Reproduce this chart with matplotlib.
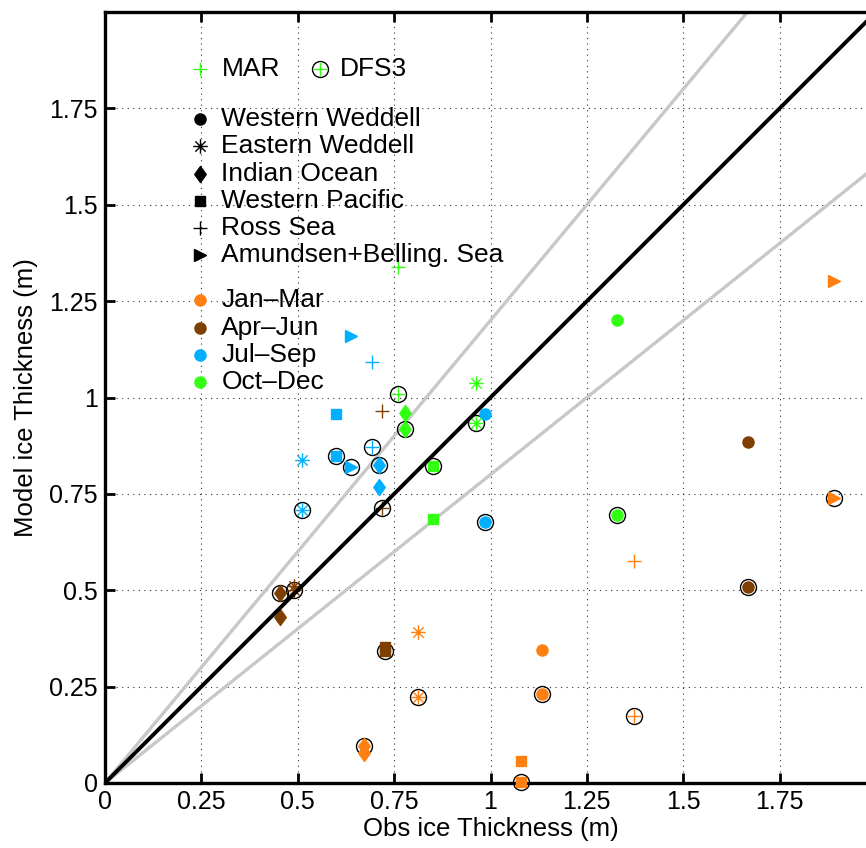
import matplotlib
matplotlib.use("Agg")
import matplotlib.pyplot as plt
import numpy as np
from matplotlib.path import Path

plt.rcParams["font.family"] = ["Liberation Sans", "DejaVu Sans"]

# MATLAB-like '*' (plus over cross) and 'd' (diamond) markers
_a = np.deg2rad(np.arange(0, 180, 45))
ASTERISK = Path(
    np.ravel(np.column_stack([np.cos(_a), np.sin(_a), -np.cos(_a), -np.sin(_a)])).reshape(-1, 2),
    [Path.MOVETO, Path.LINETO] * 4,
)
DIAMOND = Path([(0, 1), (0.72, 0), (0, -1), (-0.72, 0), (0, 1)],
               [Path.MOVETO] + [Path.LINETO] * 3 + [Path.CLOSEPOLY])

REGIONS = [
    "Western Weddell",
    "Eastern Weddell",
    "Indian Ocean",
    "Western Pacific",
    "Ross Sea",
    "Amundsen+Belling. Sea",
]
REGION_MARKERS = ["o", ASTERISK, DIAMOND, "s", "+", ">"]
REGION_SIZES = [8, 10.5, 11.5, 6.5, 9.5, 8]
OPEN_MARKERS = [False, True, False, False, True, False]

SEASONS = ["Jan\u2013Mar", "Apr\u2013Jun", "Jul\u2013Sep", "Oct\u2013Dec"]
SEASON_COLORS = ["#ff8010", "#7f3f00", "#00b0ff", "#33ff14"]

nan = np.nan
# rows: regions, columns: seasons
OBS_THICK = [
    [1.133, 1.668, 0.987, 1.328],
    [0.812, 0.490, 0.512, 0.963],
    [0.672, 0.455, 0.710, 0.778],
    [1.078, 0.727, 0.600, 0.852],
    [1.372, 0.719, 0.692, 0.759],
    [1.892, nan, 0.639, nan],
]
MAR_THICK = [
    [0.345, 0.884, 0.956, 1.200],
    [0.392, 0.510, 0.839, 1.038],
    [0.077, 0.430, 0.767, 0.960],
    [0.057, 0.352, 0.957, 0.684],
    [0.576, 0.965, 1.091, 1.339],
    [1.302, nan, 1.159, nan],
]
DFS3_THICK = [
    [0.232, 0.509, 0.677, 0.696],
    [0.222, 0.500, 0.708, 0.935],
    [0.097, 0.492, 0.824, 0.917],
    [0.003, 0.342, 0.848, 0.823],
    [0.174, 0.714, 0.872, 1.008],
    [0.740, nan, 0.820, nan],
]

REF_SLOPES = [1.2, 0.8]
TICKS = [0, 0.25, 0.5, 0.75, 1, 1.25, 1.5, 1.75]
TICK_LABELS = ["0", "0.25", "0.5", "0.75", "1", "1.25", "1.5", "1.75"]

RING_SIZE = 11.5

W, H = 866, 848
fig = plt.figure(figsize=(W / 100, H / 100), dpi=100)
# axes run to x=2 which falls just beyond the right edge of the image
ax = fig.add_axes([105 / W, (H - 783) / H, 771 / W, 771 / H])

line = np.array([0, 2.5])
for s in REF_SLOPES:
    ax.plot(line, s * line, color="#c8c8c8", lw=2.4, zorder=2, solid_capstyle="butt")

for r, (mk, ms, op) in enumerate(zip(REGION_MARKERS, REGION_SIZES, OPEN_MARKERS)):
    for s, col in enumerate(SEASON_COLORS):
        x = OBS_THICK[r][s]
        if np.isnan(x):
            continue
        kw = dict(ms=ms, mec=col, mfc="none" if op else col,
                  mew=1.0, ls="none", clip_on=False, zorder=4)
        ax.plot(x, MAR_THICK[r][s], marker=mk, **kw)
        ax.plot(x, DFS3_THICK[r][s], "o", ms=RING_SIZE, mfc="none", mec="black",
                mew=1.0, ls="none", clip_on=False, zorder=3)
        ax.plot(x, DFS3_THICK[r][s], marker=mk, **kw)

ax.plot(line, line, color="black", lw=2.8, zorder=5, solid_capstyle="butt")


# hand-made legend, as in the original figure
def leg_marker(xf, yf, mk, ms, color, opened=False, ring=False):
    if ring:
        ax.plot(xf, yf, "o", ms=RING_SIZE, mfc="none", mec="black", mew=1.0,
                transform=ax.transAxes, clip_on=False, zorder=6)
    ax.plot(xf, yf, marker=mk, ms=ms, mec=color,
            mfc="none" if opened else color, mew=1.0,
            transform=ax.transAxes, clip_on=False, zorder=7)


def leg_text(xf, yf, txt):
    ax.text(xf, yf, txt, transform=ax.transAxes, fontsize=19,
            va="center", ha="left", zorder=7)


mk_x, txt_x = 0.123, 0.151
leg_marker(mk_x, 0.926, "+", 9.5, SEASON_COLORS[3], opened=True)
leg_text(txt_x, 0.926, "MAR")
leg_marker(0.279, 0.926, "+", 9.5, SEASON_COLORS[3], opened=True, ring=True)
leg_text(0.305, 0.926, "DFS3")

step = 0.0353
for i, (name, mk, ms, op) in enumerate(zip(REGIONS, REGION_MARKERS, REGION_SIZES, OPEN_MARKERS)):
    yf = 0.861 - i * step
    leg_marker(mk_x, yf, mk, ms, "black", opened=op)
    leg_text(txt_x, yf, name)

for i, (name, col) in enumerate(zip(SEASONS, SEASON_COLORS)):
    yf = 0.626 - i * step
    leg_marker(mk_x, yf, "o", 8, col)
    leg_text(txt_x, yf, name)

ax.set_xlim(0, 2)
ax.set_ylim(0, 2)
ax.set_xticks(TICKS)
ax.set_xticklabels(TICK_LABELS)
ax.set_yticks(TICKS)
ax.set_yticklabels(TICK_LABELS)
ax.tick_params(direction="in", length=7, width=2, labelsize=18, pad=5,
               top=True, right=True)
ax.grid(True, color="black", linestyle=(0, (1, 4)), linewidth=0.8, alpha=0.8)
for sp in ax.spines.values():
    sp.set_linewidth(2.4)
ax.set_xlabel("Obs ice Thickness (m)", fontsize=18.5, labelpad=2)
ax.set_ylabel("Model ice Thickness (m)", fontsize=18.5, labelpad=8)

fig.savefig("out.png", dpi=100)
